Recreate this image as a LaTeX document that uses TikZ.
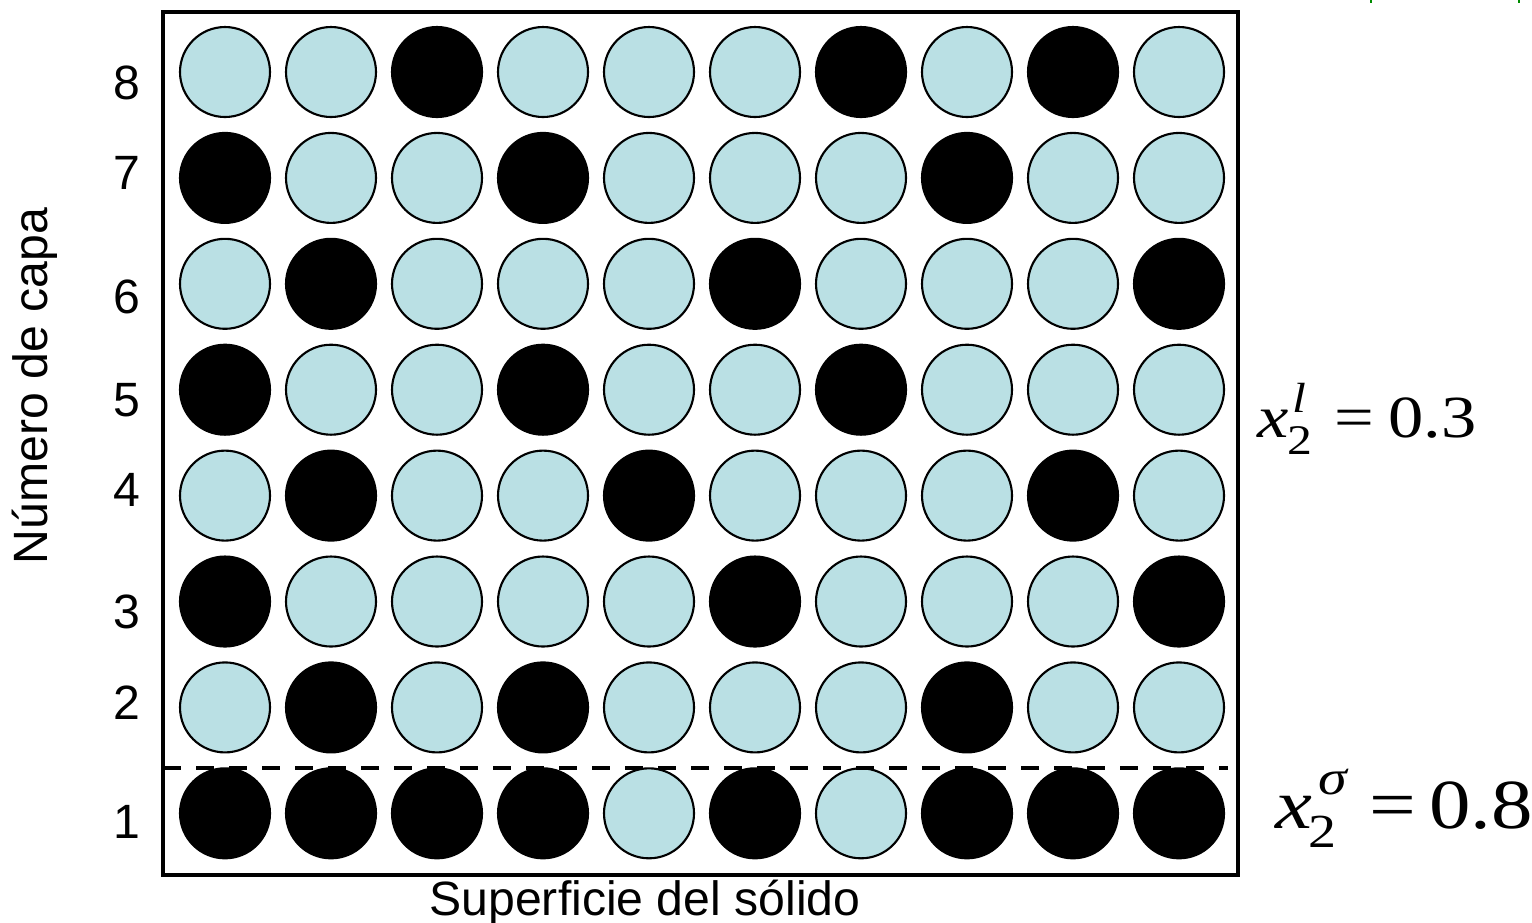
\documentclass[tikz,border=0pt]{standalone}
\usepackage{fontspec}
\setsansfont{Liberation Sans}
\newfontfamily\tms{Liberation Serif}
\usepackage{tikz}
\usetikzlibrary{positioning}
\definecolor{lightball}{RGB}{186,224,228}
\definecolor{tickgreen}{RGB}{0,140,0}
\newcommand\fsz[1]{\fontsize{#1}{#1}\selectfont}

\begin{document}
\begin{tikzpicture}[
  x=0.1mm,y=-0.1mm,
  ball/.style={circle,draw,line width=0.6pt,minimum size=9.0mm,inner sep=0pt},
  frame/.style={draw,line width=0.9pt,minimum width=107.5mm,minimum height=86.3mm,inner sep=0pt},
  num/.style={font=\sffamily\fontsize{13.7}{16}\selectfont,inner sep=0pt},
  eq/.style={font=\tms,inner sep=0pt,anchor=base west,xscale=1.18,transform shape}
]
\useasboundingbox (0,0) rectangle (1532,922);
\node[frame] (frame) at (700.5,443.5) {};
% layers, top (8) to bottom (1); 1 = black
\foreach \pat [count=\i] in {
  {0,0,1,0,0,0,1,0,1,0},
  {1,0,0,1,0,0,0,1,0,0},
  {0,1,0,0,0,1,0,0,0,1},
  {1,0,0,1,0,0,1,0,0,0},
  {0,1,0,0,1,0,0,0,1,0},
  {1,0,0,0,0,1,0,0,0,1},
  {0,1,0,1,0,0,0,1,0,0},
  {1,1,1,1,0,1,0,1,1,1}}{
  \foreach \b [count=\c] in \pat{
    \ifnum\b=1 \def\col{black}\else\def\col{lightball}\fi
    \node[ball,fill=\col] (c-\i-\c) at ({225+106*(\c-1)},{72+105.9*(\i-1)}) {};
  }
}
% layer numbers
\foreach \n/\y in {8/83,7/173,6/297,5/400,4/490,3/612,2/703,1/822}
  \node[num] (n\n) at (127,\y) {\n};
\node[num,rotate=90] (ylab) at (35,386) {Número de capa};
\node[num,anchor=base] (xlab) at (645,915) {Superficie del sólido};
% surface / bulk boundary
\coordinate (dl) at (163,768);
\coordinate (dr) at (1228,768);
\draw[line width=1pt,dash pattern=on 1.8mm off 1.5mm] (dl) -- (dr);
% mole fractions
\node[eq] (xl) at (1257,437) {\fsz{17}\textit{x}\kern-0.5pt\rlap{\raisebox{-5pt}{\fsz{12}2}}\kern1.2pt\raisebox{7pt}{\fsz{12}\itshape l}\hspace{7pt}=\hspace{3.3pt}0.3};
\node[eq] (xs) at (1275,828) {\fsz{20}\textit{x}\kern-0.9pt\rlap{\raisebox{-5.4pt}{\fsz{13.5}2}}\kern2.3pt\raisebox{9.4pt}{\fsz{14}\itshape σ}\hspace{5.5pt}=\hspace{3pt}0.8};
% marks at the top edge
\draw[tickgreen,line width=0.6pt] (1371,0) -- (1371,3);
\draw[tickgreen,line width=0.6pt] (1519,0) -- (1519,3);
\end{tikzpicture}
\end{document}
